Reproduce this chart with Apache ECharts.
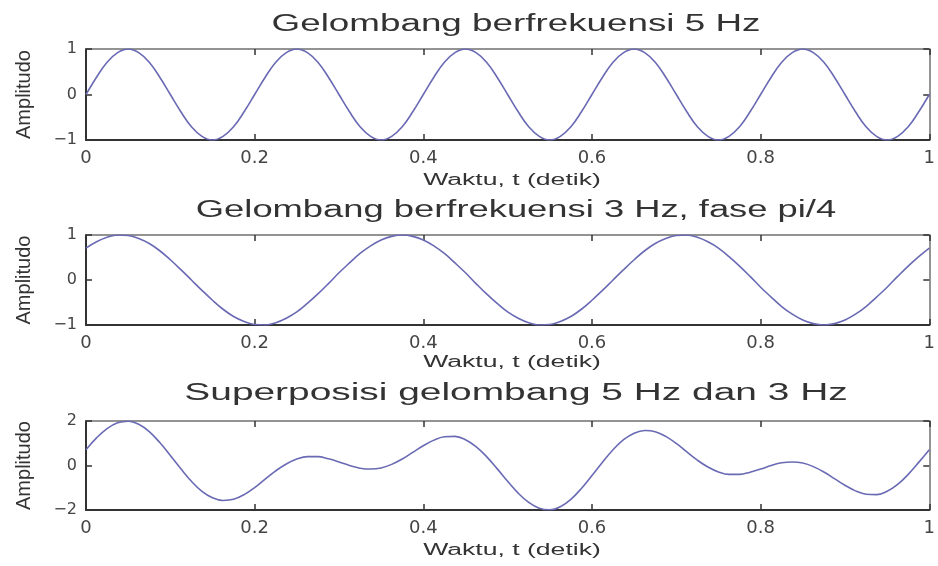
<!DOCTYPE html>
<html>
<head>
<meta charset="utf-8">
<script src="https://cdn.jsdelivr.net/npm/echarts@6/dist/echarts.min.js"></script>
<style>
html,body{margin:0;padding:0;background:#fff;}
#chart{width:938px;height:566px;}
</style>
</head>
<body>
<div id="chart"></div>
<script>
// ---- data ----
const titles = [
  'Gelombang berfrekuensi 5 Hz',
  'Gelombang berfrekuensi 3 Hz, fase pi/4',
  'Superposisi gelombang 5 Hz dan 3 Hz'
];
const xName = 'Waktu, t (detik)';
const yName = 'Amplitudo';
const xTicks = ['0', '0.2', '0.4', '0.6', '0.8', '1'];
const yTicks1 = ['\u22121', '0', '1'];
const yTicks2 = ['\u22122', '0', '2'];

const t = [0,0.0125,0.025,0.0375,0.05,0.0625,0.075,0.0875,0.1,0.1125,0.125,0.1375,0.15,0.1625,0.175,0.1875,
0.2,0.2125,0.225,0.2375,0.25,0.2625,0.275,0.2875,0.3,0.3125,0.325,0.3375,0.35,0.3625,0.375,0.3875,
0.4,0.4125,0.425,0.4375,0.45,0.4625,0.475,0.4875,0.5,0.5125,0.525,0.5375,0.55,0.5625,0.575,0.5875,
0.6,0.6125,0.625,0.6375,0.65,0.6625,0.675,0.6875,0.7,0.7125,0.725,0.7375,0.75,0.7625,0.775,0.7875,
0.8,0.8125,0.825,0.8375,0.85,0.8625,0.875,0.8875,0.9,0.9125,0.925,0.9375,0.95,0.9625,0.975,0.9875,1];

const wave5 = [0,0.38,0.71,0.92,1,0.92,0.71,0.38,0,-0.38,-0.71,-0.92,-1,-0.92,-0.71,-0.38,
0,0.38,0.71,0.92,1,0.92,0.71,0.38,0,-0.38,-0.71,-0.92,-1,-0.92,-0.71,-0.38,
0,0.38,0.71,0.92,1,0.92,0.71,0.38,0,-0.38,-0.71,-0.92,-1,-0.92,-0.71,-0.38,
0,0.38,0.71,0.92,1,0.92,0.71,0.38,0,-0.38,-0.71,-0.92,-1,-0.92,-0.71,-0.38,
0,0.38,0.71,0.92,1,0.92,0.71,0.38,0,-0.38,-0.71,-0.92,-1,-0.92,-0.71,-0.38,0];

const wave3 = [0.71,0.85,0.95,1.00,0.99,0.92,0.81,0.65,0.45,0.23,0,-0.23,-0.45,-0.65,-0.81,-0.92,
-0.99,-1.00,-0.95,-0.85,-0.71,-0.52,-0.31,-0.08,0.16,0.38,0.59,0.76,0.89,0.97,1.00,0.97,
0.89,0.76,0.59,0.38,0.16,-0.08,-0.31,-0.52,-0.71,-0.85,-0.95,-1.00,-0.99,-0.92,-0.81,-0.65,
-0.45,-0.23,0,0.23,0.45,0.65,0.81,0.92,0.99,1.00,0.95,0.85,0.71,0.52,0.31,0.08,
-0.16,-0.38,-0.59,-0.76,-0.89,-0.97,-1.00,-0.97,-0.89,-0.76,-0.59,-0.38,-0.16,0.08,0.31,0.52,0.71];

const waveSum = [0.71,1.24,1.66,1.92,1.99,1.85,1.52,1.03,0.45,-0.15,-0.71,-1.16,-1.45,-1.57,-1.52,-1.31,
-0.99,-0.61,-0.24,0.07,0.29,0.40,0.40,0.30,0.16,0,-0.12,-0.16,-0.11,0.05,0.29,0.59,
0.89,1.14,1.29,1.31,1.16,0.85,0.40,-0.14,-0.71,-1.24,-1.66,-1.92,-1.99,-1.85,-1.52,-1.03,
-0.45,0.15,0.71,1.16,1.45,1.57,1.52,1.31,0.99,0.61,0.24,-0.07,-0.29,-0.40,-0.40,-0.30,
-0.16,0,0.12,0.16,0.11,-0.05,-0.29,-0.59,-0.89,-1.14,-1.29,-1.31,-1.16,-0.85,-0.40,0.14,0.71];

// ---- layout / style ----
const panels = [
  { top: 49,  height: 91, data: wave5,   yMax: 1, yTicks: yTicks1, titleY: 25,  titleScale: 1.60, xNameY: 181 },
  { top: 235, height: 90, data: wave3,   yMax: 1, yTicks: yTicks1, titleY: 211, titleScale: 1.58, xNameY: 363 },
  { top: 421, height: 89, data: waveSum, yMax: 2, yTicks: yTicks2, titleY: 394, titleScale: 1.69, xNameY: 551 }
];
const LEFT = 86, RIGHT = 1;
const lineColor = '#6a6ab4';
const axisDark = '#333333';
const axisLight = '#707070';
const textColor = '#333';

const grid = [], xAxis = [], yAxis = [], series = [], graphic = [];

function tickStyle() { return { show: true, inside: true, length: 6, lineStyle: { color: axisDark, width: 1.5 } }; }

panels.forEach((p, i) => {
  grid.push({ left: LEFT, right: RIGHT, top: p.top, height: p.height });
  // bottom x axis (labels)
  xAxis.push({
    type: 'value', gridIndex: i, min: 0, max: 1, interval: 0.2, position: 'bottom',
    axisLine: { show: true, onZero: false, lineStyle: { color: axisDark, width: 2 } },
    axisTick: tickStyle(),
    splitLine: { show: false },
    axisLabel: {
      show: true, margin: 9, color: '#444', fontFamily: 'DejaVu Sans', fontSize: 18,
      formatter: v => xTicks[Math.round(v / 0.2)]
    }
  });
  // top x axis (ticks only)
  xAxis.push({
    type: 'value', gridIndex: i, min: 0, max: 1, interval: 0.2, position: 'top',
    axisLine: { show: true, onZero: false, lineStyle: { color: axisLight, width: 1.5 } },
    axisTick: tickStyle(),
    splitLine: { show: false }, axisLabel: { show: false }
  });
  // left y axis
  yAxis.push({
    type: 'value', gridIndex: i, min: -p.yMax, max: p.yMax, interval: p.yMax, position: 'left',
    name: yName, nameLocation: 'middle', nameRotate: 90, nameGap: 52,
    nameTextStyle: { fontFamily: 'Liberation Sans', fontSize: 20, color: textColor },
    axisLine: { show: true, onZero: false, lineStyle: { color: axisDark, width: 2 } },
    axisTick: tickStyle(),
    splitLine: { show: false },
    axisLabel: {
      show: true, margin: 9, color: '#444', fontFamily: 'DejaVu Sans', fontSize: 16,
      formatter: v => p.yTicks[Math.round(v / p.yMax) + 1]
    }
  });
  // right y axis (ticks only)
  yAxis.push({
    type: 'value', gridIndex: i, min: -p.yMax, max: p.yMax, interval: p.yMax, position: 'right',
    axisLine: { show: true, onZero: false, lineStyle: { color: axisLight, width: 1.5 } },
    axisTick: tickStyle(),
    splitLine: { show: false }, axisLabel: { show: false }
  });
  series.push({
    type: 'line', xAxisIndex: 2 * i, yAxisIndex: 2 * i,
    data: t.map((x, k) => [x, p.data[k]]),
    showSymbol: false, smooth: 0.4,
    lineStyle: { color: lineColor, width: 1.6 }, itemStyle: { color: lineColor },
    z: 1
  });
  graphic.push({
    type: 'text', x: 516, y: p.titleY, scaleX: p.titleScale, scaleY: 1,
    style: { text: titles[i], font: '23px "Liberation Sans", Arial, sans-serif', fill: textColor,
             align: 'center', verticalAlign: 'middle' }
  });
  graphic.push({
    type: 'text', x: 512, y: p.xNameY, scaleX: 1.66, scaleY: 1,
    style: { text: xName, font: '16px "Liberation Sans", Arial, sans-serif', fill: textColor,
             align: 'center', verticalAlign: 'middle' }
  });
});

const chart = echarts.init(document.getElementById('chart'));
chart.setOption({
  backgroundColor: '#fff',
  animation: false,
  grid, xAxis, yAxis, series, graphic
});
</script>
</body>
</html>
